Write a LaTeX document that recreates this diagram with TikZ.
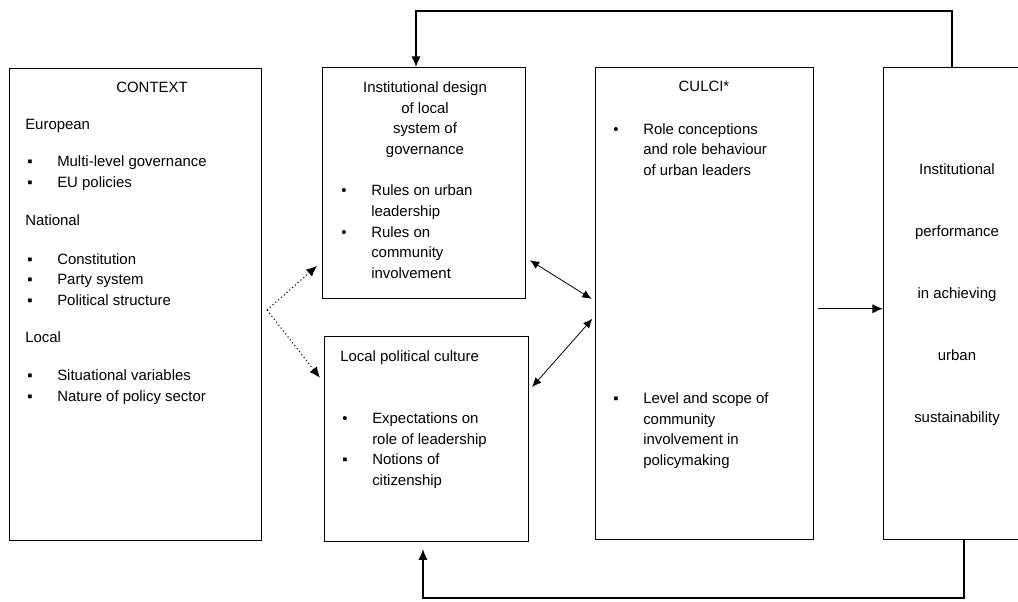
\documentclass[tikz,border=0pt]{standalone}
\usepackage{fontspec}
\setmainfont{Liberation Sans}
\usetikzlibrary{arrows.meta}

\newcommand{\bsq}{\makebox[22.5pt][l]{▪}}
\newcommand{\bdot}{\makebox[22.5pt][l]{•}}
\newcommand{\bgap}{\hspace*{22.5pt}}

\begin{document}
\begin{tikzpicture}[
  x=0.75pt, y=-0.75pt,
  >={Latex[length=8pt,width=7pt]},
  panel/.style={draw,line width=1.1pt,anchor=north west,inner sep=0pt},
  txt/.style={font=\fontsize{11.2}{15.5}\selectfont,inner sep=0pt,align=left,anchor=mid west},
  heading/.style={txt,align=center,anchor=mid},
  flow/.style={->,line width=1pt},
  twoway/.style={{Latex[length=7pt,width=6pt]}-{Latex[length=7pt,width=6pt]},line width=0.6pt,shorten >=3pt,shorten <=3pt},
  hint/.style={->,dotted,line width=0.8pt,shorten >=5pt}
]
  \useasboundingbox (0,0) rectangle (1018,601);
  \clip (0,0) rectangle (1018,601);

  % boxes
  \node[panel,minimum width=189pt,minimum height=354pt] (context) at (9,68) {};
  \node[panel,minimum width=152.25pt,minimum height=173.25pt] (design) at (322,67) {};
  \node[panel,minimum width=153pt,minimum height=153.75pt] (culture) at (324,336) {};
  \node[panel,minimum width=163.5pt,minimum height=354pt] (culci) at (595,67) {};
  \node[panel,minimum width=111pt,minimum height=354pt] (perf) at (883,67) {};

  % context (multi-line nodes sit on their last line)
  \node[heading] (ctxTitle) at (152,89) {CONTEXT};
  \node[txt] (eurHead) at (25,126) {European};
  \node[txt] (eurList) at (27,184) {\bsq Multi-level governance\\\bsq EU policies};
  \node[txt] (natHead) at (25,222) {National};
  \node[txt] (natList) at (27,302) {\bsq Constitution\\\bsq Party system\\\bsq Political structure};
  \node[txt] (locHead) at (25,339) {Local};
  \node[txt] (locList) at (27,398) {\bsq Situational variables\\\bsq Nature of policy sector};

  % middle column
  \node[heading] (designTitle) at (425,151) {Institutional design\\of local\\system of\\governance};
  \node[txt] (designList) at (341,275) {\bdot Rules on urban\\\bgap leadership\\\bdot Rules on\\\bgap community\\\bgap involvement};
  \node[txt] (cultureTitle) at (340,358) {Local political culture};
  \node[txt] (cultureList) at (342,482) {\bdot Expectations on\\\bgap role of leadership\\\bsq Notions of\\\bgap citizenship};

  % culci
  \node[heading] (culciTitle) at (704,88) {CULCI*};
  \node[txt] (roleList) at (613,172) {\bdot Role conceptions\\\bgap and role behaviour\\\bgap of urban leaders};
  \node[txt] (levelList) at (613,462) {\bsq Level and scope of\\\bgap community\\\bgap involvement in\\\bgap policymaking};

  % outcome
  \node[heading,font=\fontsize{11.2}{46.5}\selectfont] (perfText) at (957,419)
    {Institutional\\performance\\in achieving\\urban\\sustainability};

  % connectors
  \coordinate (split) at (267,310);
  \coordinate (topBend) at (952,11);
  \coordinate (topEnd) at (416,11);
  \coordinate (botBend) at (964,598);
  \coordinate (botEnd) at (423,598);

  \draw[flow] (perf.north -| topBend) -- (topBend) -- (topEnd) -- (design.north -| topEnd);
  \draw[flow,shorten >=5pt] (perf.south -| botBend) -- (botBend) -- (botEnd) -- (culture.south -| botEnd);
  \draw[flow,shorten <=3pt] ([yshift=-3.75pt]culci.east) -- ([yshift=-3.75pt]culci.east -| perf.west);
  \draw[twoway] ([yshift=31pt]design.south east) -- ([yshift=2pt]culci.west);
  \draw[twoway] ([yshift=-9pt]culci.west) -- ([yshift=-40.5pt]culture.north east);
  \draw[hint] (split) -- ([yshift=28.5pt]design.south west);
  \draw[hint] (split) -- ([yshift=-35.25pt]culture.north west);
\end{tikzpicture}
\end{document}
